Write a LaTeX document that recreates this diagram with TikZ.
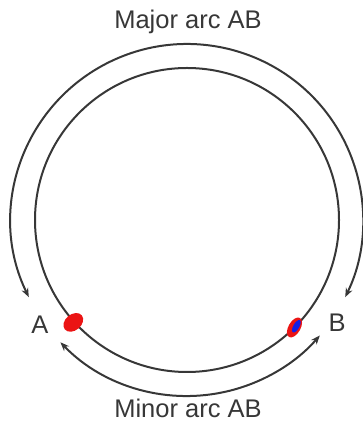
\documentclass[tikz,border=0pt]{standalone}
\usepackage{fontspec}
\setmainfont{Liberation Sans}
\usepackage{xcolor}
\definecolor{ArcGray}{RGB}{55,55,55}
\definecolor{MarkRed}{RGB}{235,20,20}
\definecolor{MarkBlue}{RGB}{20,30,230}
\usetikzlibrary{arrows.meta}

\begin{document}
\begin{tikzpicture}[
    x=1pt,y=1pt,
    ring/.style={draw=ArcGray,line width=2pt},
    arcarr/.style={draw=ArcGray,line width=2pt,{Stealth[length=9pt,width=7pt]}-{Stealth[length=9pt,width=7pt]}},
    lbl/.style={text=ArcGray,font=\fontsize{25.5}{30}\selectfont,inner sep=0pt},
  ]
    \useasboundingbox (0,0) rectangle (362,430);
    \coordinate (O) at (187,210);
    % circle and its two arcs
    \draw[ring] (O) circle[radius=152];
    \draw[arcarr] ([shift={(206:176)}]O) arc[start angle=206,end angle=-26,radius=176];
    \draw[arcarr] ([shift={(224:176)}]O) arc[start angle=224,end angle=319,radius=176];
    % points A and B
    \coordinate (ptA) at ([shift={(222:153)}]O);
    \coordinate (ptB) at ([shift={(-45:152)}]O);
    \fill[MarkRed,rotate around={40:(ptA)}] (ptA) ellipse[x radius=11,y radius=8];
    \fill[MarkRed,rotate around={60:(ptB)}] (ptB) ellipse[x radius=11,y radius=6];
    \fill[MarkBlue,rotate around={60:(ptB)}] ([shift={(2,-1)}]ptB) ellipse[x radius=7,y radius=3];
    % labels
    \node[lbl] (major) at (188,408) {Major arc AB};
    \node[lbl] (minor) at (188,22) {Minor arc AB};
    \node[lbl] (labA) at (40,105) {A};
    \node[lbl] (labB) at (337,107) {B};
  \end{tikzpicture}
\end{document}
